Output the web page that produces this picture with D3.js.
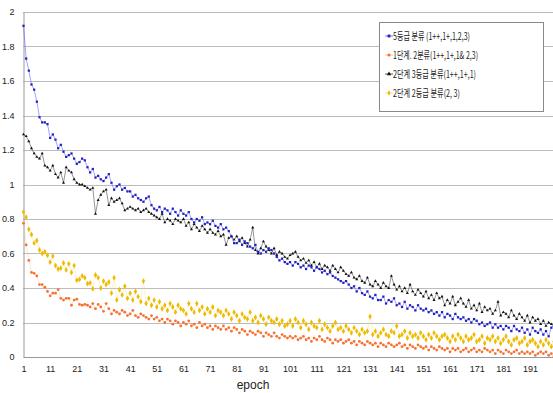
<!DOCTYPE html>
<html><head><meta charset="utf-8">
<script src="https://cdn.jsdelivr.net/npm/d3@7"></script>
<style>body{margin:0;background:#fff;}svg{display:block;}</style>
</head><body>
<script>
const seriesNames = ["5등급 분류 (1++,1+,1,2,3)", "1단계. 2분류(1++,1+,1& 2,3)", "2단계 3등급 분류(1++,1+,1)", "2단계 2등급 분류(2, 3)"];
const xTicks = [1,11,21,31,41,51,61,71,81,91,101,111,121,131,141,151,161,171,181,191];
const yTicks = [0,0.2,0.4,0.6,0.8,1,1.2,1.4,1.6,1.8,2];
const xLabel = "epoch";

const blue = [
1.92,1.73,1.66,1.58,1.55,1.48,1.39,1.36,1.36,1.35,1.27,1.29,1.26,1.21,1.23,1.19,1.16,1.17,1.18,1.15,
1.12,1.13,1.15,1.14,1.10,1.07,1.09,1.04,1.05,1.03,1.02,1.04,1.06,1.01,0.97,0.99,1.00,0.97,0.98,0.96,
0.96,0.93,0.94,0.92,0.91,0.90,0.92,0.93,0.88,0.86,
0.85,0.87,0.84,0.86,0.85,0.83,0.86,0.84,0.82,0.85,0.83,0.82,0.84,0.80,0.78,0.80,0.79,0.81,0.77,0.78,
0.77,0.79,0.76,0.75,0.77,0.74,0.75,0.73,0.70,0.66,0.66,0.68,0.65,0.67,0.66,0.64,0.63,0.65,0.61,0.60,
0.62,0.61,0.63,0.62,0.60,0.58,0.56,0.57,0.55,0.54,
0.55,0.53,0.55,0.54,0.52,0.53,0.51,0.53,0.52,0.50,0.52,0.51,0.49,0.50,0.48,0.49,0.47,0.46,0.45,0.44,
0.43,0.44,0.42,0.40,0.41,0.38,0.40,0.37,0.36,0.38,0.35,0.34,0.36,0.33,0.33,0.35,0.31,0.33,0.32,0.34,
0.30,0.31,0.29,0.32,0.28,0.30,0.29,0.27,0.30,0.28,
0.27,0.28,0.26,0.27,0.25,0.26,0.24,0.26,0.23,0.25,0.24,0.22,0.25,0.23,0.22,0.23,0.21,0.22,0.20,0.22,
0.21,0.19,0.20,0.18,0.19,0.20,0.17,0.19,0.17,0.18,0.16,0.18,0.17,0.15,0.18,0.16,0.15,0.17,0.14,0.16,
0.13,0.17,0.15,0.14,0.16,0.13,0.15,0.12,0.17,0.19];

const orange = [
0.775,0.65,0.56,0.49,0.485,0.47,0.42,0.42,0.405,0.38,0.355,0.37,0.37,0.39,0.34,0.33,0.34,0.34,0.30,0.33,
0.335,0.305,0.30,0.305,0.30,0.29,0.31,0.28,0.305,0.29,0.265,0.31,0.28,0.25,0.27,0.26,
0.25,0.27,0.26,0.24,0.25,0.27,0.24,0.23,0.25,0.24,0.23,0.22,0.24,0.22,
0.23,0.21,0.22,0.20,0.22,0.21,0.19,0.21,0.20,0.18,0.20,0.19,0.21,0.18,0.19,0.17,0.20,0.18,0.19,0.17,
0.18,0.16,0.18,0.17,0.16,
0.18,0.16,0.17,0.15,0.17,0.16,0.14,0.16,0.15,0.13,0.15,0.14,0.13,0.15,0.14,0.12,0.14,0.13,0.12,0.14,
0.12,0.11,0.13,0.12,0.11,
0.12,0.11,0.12,0.10,0.11,0.12,0.10,0.11,0.09,0.11,0.10,0.12,0.10,0.09,0.11,0.10,0.08,0.10,0.09,0.10,
0.08,0.09,0.10,0.08,0.09,
0.07,0.09,0.08,0.07,0.09,0.08,0.07,0.08,0.06,0.08,0.07,0.06,0.08,0.07,0.06,0.07,0.08,0.06,0.07,0.05,
0.07,0.06,0.05,0.07,0.06,
0.05,0.06,0.04,0.06,0.05,0.04,0.06,0.05,0.04,0.05,0.03,0.05,0.04,0.05,0.03,0.04,0.05,0.03,0.04,0.05,
0.03,0.04,0.03,0.05,0.04,
0.03,0.04,0.02,0.04,0.03,0.02,0.04,0.03,0.02,0.03,0.04,0.02,0.03,0.02,0.03,0.02,0.03,0.01,0.02,0.03,
0.02,0.03,0.01,0.02,0.005];

const black = [
1.29,1.28,1.25,1.21,1.18,1.16,1.15,1.18,1.11,1.10,1.08,1.11,1.06,1.04,1.07,1.01,1.10,1.08,1.07,1.03,
1.01,1.00,1.00,0.99,0.98,0.97,0.98,0.83,0.91,0.94,0.96,0.97,0.88,0.92,0.90,0.91,0.92,0.89,0.85,0.86,
0.87,0.86,0.85,0.86,0.84,0.85,0.86,0.84,0.83,0.82,
0.81,0.80,0.83,0.78,0.80,0.79,0.77,0.80,0.79,0.78,0.80,0.76,0.78,0.74,0.77,0.75,0.73,0.76,0.74,0.72,
0.74,0.72,0.71,0.73,0.70,0.71,0.65,0.69,0.70,0.68,0.70,0.67,0.69,0.66,0.64,0.68,0.75,0.62,0.60,0.63,
0.67,0.64,0.62,0.60,0.63,0.59,0.61,0.60,0.58,0.57,
0.59,0.60,0.61,0.58,0.56,0.57,0.545,0.56,0.53,0.55,0.52,0.54,0.51,0.53,0.52,0.50,0.53,0.51,0.49,0.52,
0.50,0.48,0.47,0.49,0.46,
0.45,0.47,0.44,0.43,0.46,0.42,0.41,0.44,0.42,0.40,0.43,0.41,0.40,0.47,0.42,0.39,0.41,0.38,0.40,0.37,
0.42,0.38,0.36,0.39,0.37,
0.35,0.38,0.34,0.36,0.33,0.37,0.34,0.35,0.30,0.33,0.31,0.35,0.30,0.32,0.34,0.31,0.29,0.33,0.28,0.30,
0.27,0.31,0.26,0.29,0.27,
0.28,0.25,0.27,0.32,0.24,0.26,0.25,0.23,0.27,0.24,0.22,0.25,0.23,0.21,0.24,0.20,0.23,0.21,0.22,0.19,
0.21,0.18,0.20,0.19,0.18];

const yellow = [
0.84,0.81,0.74,0.71,0.66,0.675,0.62,0.60,0.61,0.59,0.55,0.585,0.53,0.51,0.515,0.545,0.505,0.54,0.49,0.53,
0.445,0.45,0.47,0.46,0.425,0.43,0.395,0.475,0.46,0.40,0.44,0.42,0.435,0.37,0.46,0.33,
0.39,0.36,0.41,0.34,0.37,0.33,0.38,0.35,0.32,0.44,0.31,0.34,0.30,0.33,
0.29,0.32,0.28,0.30,0.27,0.31,0.29,0.26,0.30,0.28,0.27,0.25,0.31,0.28,0.26,0.31,0.27,0.29,0.25,0.28,
0.26,0.29,0.24,0.27,0.26,
0.24,0.27,0.25,0.22,0.26,0.24,0.21,0.25,0.23,0.22,0.26,0.21,0.23,0.20,0.24,0.22,0.19,0.23,0.21,0.20,
0.22,0.19,0.21,0.18,0.19,
0.21,0.18,0.22,0.20,0.17,0.21,0.19,0.16,0.20,0.18,0.17,0.21,0.16,0.19,0.17,0.15,0.18,0.20,0.16,0.17,
0.15,0.18,0.16,0.14,0.17,
0.15,0.13,0.16,0.14,0.15,0.235,0.13,0.15,0.12,0.14,0.16,0.13,0.12,0.15,0.14,0.18,0.12,0.13,0.15,0.11,
0.14,0.12,0.13,0.11,0.14,
0.12,0.10,0.13,0.11,0.14,0.12,0.10,0.12,0.13,0.11,0.09,0.12,0.10,0.13,0.11,0.09,0.12,0.10,0.11,0.13,
0.09,0.10,0.12,0.08,0.11,
0.10,0.12,0.09,0.11,0.08,0.10,0.12,0.09,0.07,0.10,0.11,0.08,0.09,0.11,0.07,0.09,0.10,0.08,0.06,0.09,
0.07,0.10,0.08,0.06,0.09];

const W = 553, H = 393;
const svg = d3.select("body").append("svg").attr("width", W).attr("height", H);
const x = d3.scaleLinear().domain([1, 200]).range([23.5, 554]);
const y = d3.scaleLinear().domain([0, 2]).range([357, 12]);
const font = "'Liberation Sans Narrow','Liberation Sans',sans-serif";

// gridlines
svg.append("g").selectAll("line").data(yTicks.filter(d => d > 0)).join("line")
  .attr("x1", 23).attr("x2", W).attr("y1", d => Math.round(y(d)) + 0.5).attr("y2", d => Math.round(y(d)) + 0.5)
  .attr("stroke", "#bcbcbc").attr("stroke-width", 1);

// axes
const yAxis = d3.axisLeft(y).tickValues(yTicks).tickSize(0).tickPadding(9)
  .tickFormat(d => d === 0 ? "0" : d3.format("~g")(d));
const gy = svg.append("g").attr("transform", "translate(23.5,0)").call(yAxis);
gy.select(".domain").attr("stroke", "#999");
gy.selectAll("text").attr("font-family", font).attr("font-size", 9).attr("fill", "#222");

const xAxis = d3.axisBottom(x).tickValues(xTicks).tickSize(0).tickPadding(8).tickFormat(d3.format("d"));
const gx = svg.append("g").attr("transform", "translate(0,357.5)").call(xAxis);
gx.select(".domain").attr("stroke", "#999").attr("d", "M23.5,0H" + W);
gx.selectAll("text").attr("font-family", font).attr("font-size", 9).attr("fill", "#222");

svg.append("text").attr("x", 253).attr("y", 389).attr("text-anchor", "middle")
  .attr("font-family", font).attr("font-size", 12).attr("fill", "#222").text(xLabel);

const series = [
  {name: seriesNames[0], data: blue, line: "#5a5aff", lineOp: 0.8, mark: "#2020c0", sym: d3.symbolSquare, size: 5},
  {name: seriesNames[1], data: orange, line: "#ffb08a", lineOp: 0.5, mark: "#f7712e", sym: d3.symbolCircle, size: 6},
  {name: seriesNames[2], data: black, line: "#333", lineOp: 0.75, mark: "#111", sym: d3.symbolTriangle, size: 4},
  {name: seriesNames[3], data: yellow, line: "#f5dc80", lineOp: 0.55, mark: "#eebb00", sym: d3.symbolDiamond, size: 10}
];
const drawOrder = [1, 3, 2, 0];
const line = d3.line().x((d, i) => x(i + 1)).y(d => y(d));
drawOrder.forEach(k => {
  const s = series[k];
  const g = svg.append("g");
  g.append("path").attr("d", line(s.data)).attr("fill", "none")
    .attr("stroke", s.line).attr("stroke-opacity", s.lineOp).attr("stroke-width", 0.7);
  g.selectAll("path.m").data(s.data).join("path").attr("class", "m")
    .attr("d", d3.symbol().type(s.sym).size(s.size))
    .attr("transform", (d, i) => `translate(${x(i + 1)},${y(d)})`)
    .attr("fill", s.mark);
});

// legend
const lg = svg.append("g");
lg.append("rect").attr("x", 379.5).attr("y", 22.5).attr("width", 164).attr("height", 89)
  .attr("fill", "#fff").attr("stroke", "#8a8a8a").attr("stroke-width", 1);
const ly = [36, 55, 74, 93];
const lw = [77, 85, 83, 67];
series.forEach((s, i) => {
  lg.append("line").attr("x1", 385).attr("x2", 393).attr("y1", ly[i]).attr("y2", ly[i])
    .attr("stroke", s.line).attr("stroke-width", 0.8);
  lg.append("path").attr("d", d3.symbol().type(s.sym).size(8))
    .attr("transform", `translate(389,${ly[i]})`).attr("fill", s.mark);
  lg.append("text").attr("x", 393).attr("y", ly[i] + 3.5)
    .attr("font-family", "'Noto Sans CJK KR',sans-serif").attr("font-size", 10).attr("fill", "#222")
    .attr("textLength", lw[i]).attr("lengthAdjust", "spacingAndGlyphs").text(s.name);
});
</script>
</body></html>
